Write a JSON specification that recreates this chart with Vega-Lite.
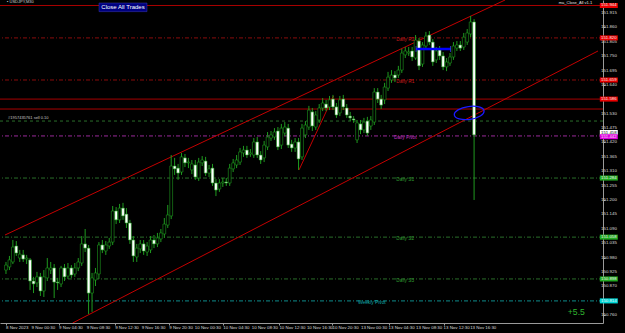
{
"$schema": "https://vega.github.io/schema/vega-lite/v6.json",
"width": 603, "height": 323,
"autosize": {"type": "none"},
"padding": {"left": 0, "top": 0, "right": 22, "bottom": 10},
"background": "black",
"config": {"view": {"stroke": null, "fill": "black"}, "font": "Liberation Sans"},
"resolve": {"scale": {"color": "independent", "strokeDash": "independent", "fill": "independent"}},
"datasets": {
"candles": [
{"i":0,"o":150.932,"h":150.963,"l":150.917,"c":150.951},
{"i":1,"o":150.944,"h":150.986,"l":150.932,"c":150.971},
{"i":2,"o":150.963,"h":151.047,"l":150.955,"c":151.020},
{"i":3,"o":151.024,"h":151.043,"l":150.986,"c":150.997},
{"i":4,"o":150.978,"h":151.009,"l":150.963,"c":150.993},
{"i":5,"o":150.990,"h":151.009,"l":150.963,"c":150.974},
{"i":6,"o":150.974,"h":150.990,"l":150.955,"c":150.978},
{"i":7,"o":150.971,"h":150.978,"l":150.856,"c":150.890},
{"i":8,"o":150.890,"h":150.906,"l":150.844,"c":150.879},
{"i":9,"o":150.883,"h":150.925,"l":150.867,"c":150.906},
{"i":10,"o":150.906,"h":150.921,"l":150.833,"c":150.852},
{"i":11,"o":150.852,"h":150.932,"l":150.829,"c":150.906},
{"i":12,"o":150.902,"h":150.978,"l":150.890,"c":150.940},
{"i":13,"o":150.932,"h":150.963,"l":150.917,"c":150.940},
{"i":14,"o":150.940,"h":150.955,"l":150.825,"c":150.886},
{"i":15,"o":150.886,"h":150.902,"l":150.856,"c":150.883},
{"i":16,"o":150.879,"h":150.948,"l":150.867,"c":150.940},
{"i":17,"o":150.940,"h":150.955,"l":150.890,"c":150.906},
{"i":18,"o":150.909,"h":150.959,"l":150.898,"c":150.940},
{"i":19,"o":150.940,"h":150.951,"l":150.902,"c":150.913},
{"i":20,"o":150.917,"h":150.959,"l":150.906,"c":150.940},
{"i":21,"o":150.940,"h":150.978,"l":150.928,"c":150.963},
{"i":22,"o":150.959,"h":151.062,"l":150.948,"c":151.032},
{"i":23,"o":151.032,"h":151.089,"l":151.001,"c":151.016},
{"i":24,"o":151.016,"h":151.028,"l":150.764,"c":150.844},
{"i":25,"o":150.844,"h":150.921,"l":150.772,"c":150.902},
{"i":26,"o":150.894,"h":150.940,"l":150.871,"c":150.921},
{"i":27,"o":150.917,"h":151.039,"l":150.898,"c":151.028},
{"i":28,"o":151.028,"h":151.047,"l":150.997,"c":151.009},
{"i":29,"o":151.005,"h":151.043,"l":150.990,"c":151.028},
{"i":30,"o":151.024,"h":151.055,"l":151.013,"c":151.039},
{"i":31,"o":151.039,"h":151.177,"l":151.028,"c":151.158},
{"i":32,"o":151.158,"h":151.173,"l":151.108,"c":151.124},
{"i":33,"o":151.124,"h":151.185,"l":151.112,"c":151.169},
{"i":34,"o":151.169,"h":151.189,"l":151.124,"c":151.139},
{"i":35,"o":151.146,"h":151.169,"l":151.093,"c":151.112},
{"i":36,"o":151.112,"h":151.124,"l":151.032,"c":151.047},
{"i":37,"o":151.047,"h":151.062,"l":150.963,"c":150.986},
{"i":38,"o":150.982,"h":151.032,"l":150.963,"c":151.016},
{"i":39,"o":151.013,"h":151.047,"l":150.997,"c":151.032},
{"i":40,"o":151.032,"h":151.047,"l":150.990,"c":151.005},
{"i":41,"o":151.001,"h":151.039,"l":150.986,"c":151.024},
{"i":42,"o":151.009,"h":151.062,"l":150.997,"c":151.047},
{"i":43,"o":151.047,"h":151.066,"l":151.016,"c":151.032},
{"i":44,"o":151.032,"h":151.074,"l":151.020,"c":151.055},
{"i":45,"o":151.051,"h":151.089,"l":151.039,"c":151.074},
{"i":46,"o":151.070,"h":151.131,"l":151.055,"c":151.108},
{"i":47,"o":151.104,"h":151.181,"l":151.093,"c":151.143},
{"i":48,"o":151.139,"h":151.372,"l":151.127,"c":151.330},
{"i":49,"o":151.330,"h":151.361,"l":151.296,"c":151.319},
{"i":50,"o":151.322,"h":151.338,"l":151.277,"c":151.303},
{"i":51,"o":151.307,"h":151.380,"l":151.296,"c":151.365},
{"i":52,"o":151.361,"h":151.376,"l":151.326,"c":151.342},
{"i":53,"o":151.342,"h":151.361,"l":151.322,"c":151.345},
{"i":54,"o":151.315,"h":151.353,"l":151.299,"c":151.338},
{"i":55,"o":151.334,"h":151.353,"l":151.277,"c":151.288},
{"i":56,"o":151.284,"h":151.361,"l":151.273,"c":151.345},
{"i":57,"o":151.342,"h":151.368,"l":151.330,"c":151.353},
{"i":58,"o":151.349,"h":151.365,"l":151.292,"c":151.303},
{"i":59,"o":151.303,"h":151.334,"l":151.288,"c":151.319},
{"i":60,"o":151.322,"h":151.338,"l":151.254,"c":151.265},
{"i":61,"o":151.265,"h":151.280,"l":151.215,"c":151.238},
{"i":62,"o":151.242,"h":151.280,"l":151.231,"c":151.265},
{"i":63,"o":151.265,"h":151.284,"l":151.250,"c":151.269},
{"i":64,"o":151.269,"h":151.284,"l":151.254,"c":151.265},
{"i":65,"o":151.265,"h":151.338,"l":151.254,"c":151.322},
{"i":66,"o":151.319,"h":151.357,"l":151.307,"c":151.342},
{"i":67,"o":151.334,"h":151.372,"l":151.322,"c":151.353},
{"i":68,"o":151.345,"h":151.399,"l":151.334,"c":151.384},
{"i":69,"o":151.380,"h":151.407,"l":151.365,"c":151.391},
{"i":70,"o":151.391,"h":151.407,"l":151.361,"c":151.372},
{"i":71,"o":151.376,"h":151.395,"l":151.365,"c":151.380},
{"i":72,"o":151.372,"h":151.437,"l":151.361,"c":151.422},
{"i":73,"o":151.422,"h":151.441,"l":151.361,"c":151.372},
{"i":74,"o":151.372,"h":151.387,"l":151.338,"c":151.353},
{"i":75,"o":151.361,"h":151.426,"l":151.345,"c":151.410},
{"i":76,"o":151.403,"h":151.460,"l":151.391,"c":151.441},
{"i":77,"o":151.437,"h":151.464,"l":151.426,"c":151.449},
{"i":78,"o":151.441,"h":151.475,"l":151.430,"c":151.460},
{"i":79,"o":151.464,"h":151.479,"l":151.391,"c":151.403},
{"i":80,"o":151.410,"h":151.491,"l":151.395,"c":151.475},
{"i":81,"o":151.456,"h":151.498,"l":151.445,"c":151.479},
{"i":82,"o":151.475,"h":151.491,"l":151.399,"c":151.410},
{"i":83,"o":151.414,"h":151.430,"l":151.384,"c":151.399},
{"i":84,"o":151.399,"h":151.437,"l":151.384,"c":151.422},
{"i":85,"o":151.422,"h":151.437,"l":151.315,"c":151.357},
{"i":86,"o":151.365,"h":151.491,"l":151.353,"c":151.475},
{"i":87,"o":151.449,"h":151.502,"l":151.437,"c":151.487},
{"i":88,"o":151.479,"h":151.560,"l":151.468,"c":151.544},
{"i":89,"o":151.537,"h":151.552,"l":151.464,"c":151.483},
{"i":90,"o":151.479,"h":151.540,"l":151.468,"c":151.525},
{"i":91,"o":151.506,"h":151.567,"l":151.495,"c":151.552},
{"i":92,"o":151.552,"h":151.590,"l":151.540,"c":151.571},
{"i":93,"o":151.567,"h":151.583,"l":151.540,"c":151.552},
{"i":94,"o":151.556,"h":151.598,"l":151.544,"c":151.583},
{"i":95,"o":151.586,"h":151.602,"l":151.544,"c":151.556},
{"i":96,"o":151.556,"h":151.571,"l":151.514,"c":151.525},
{"i":97,"o":151.533,"h":151.598,"l":151.521,"c":151.583},
{"i":98,"o":151.586,"h":151.602,"l":151.544,"c":151.556},
{"i":99,"o":151.552,"h":151.567,"l":151.514,"c":151.525},
{"i":100,"o":151.521,"h":151.537,"l":151.502,"c":151.514},
{"i":101,"o":151.510,"h":151.521,"l":151.495,"c":151.506},
{"i":102,"o":151.430,"h":151.506,"l":151.418,"c":151.495},
{"i":103,"o":151.491,"h":151.506,"l":151.452,"c":151.468},
{"i":104,"o":151.468,"h":151.514,"l":151.456,"c":151.498},
{"i":105,"o":151.502,"h":151.518,"l":151.445,"c":151.456},
{"i":106,"o":151.483,"h":151.521,"l":151.468,"c":151.506},
{"i":107,"o":151.498,"h":151.628,"l":151.487,"c":151.613},
{"i":108,"o":151.613,"h":151.628,"l":151.571,"c":151.586},
{"i":109,"o":151.586,"h":151.602,"l":151.548,"c":151.563},
{"i":110,"o":151.583,"h":151.648,"l":151.567,"c":151.632},
{"i":111,"o":151.628,"h":151.690,"l":151.617,"c":151.670},
{"i":112,"o":151.659,"h":151.697,"l":151.648,"c":151.678},
{"i":113,"o":151.678,"h":151.693,"l":151.651,"c":151.667},
{"i":114,"o":151.678,"h":151.713,"l":151.667,"c":151.697},
{"i":115,"o":151.697,"h":151.778,"l":151.686,"c":151.762},
{"i":116,"o":151.755,"h":151.785,"l":151.743,"c":151.770},
{"i":117,"o":151.762,"h":151.785,"l":151.751,"c":151.766},
{"i":118,"o":151.770,"h":151.785,"l":151.732,"c":151.747},
{"i":119,"o":151.743,"h":151.831,"l":151.736,"c":151.812},
{"i":120,"o":151.808,"h":151.820,"l":151.697,"c":151.713},
{"i":121,"o":151.720,"h":151.804,"l":151.709,"c":151.793},
{"i":122,"o":151.789,"h":151.843,"l":151.778,"c":151.827},
{"i":123,"o":151.831,"h":151.846,"l":151.793,"c":151.804},
{"i":124,"o":151.804,"h":151.816,"l":151.713,"c":151.728},
{"i":125,"o":151.736,"h":151.785,"l":151.724,"c":151.770},
{"i":126,"o":151.774,"h":151.789,"l":151.736,"c":151.751},
{"i":127,"o":151.751,"h":151.766,"l":151.697,"c":151.709},
{"i":128,"o":151.709,"h":151.743,"l":151.693,"c":151.728},
{"i":129,"o":151.724,"h":151.762,"l":151.713,"c":151.747},
{"i":130,"o":151.747,"h":151.804,"l":151.736,"c":151.789},
{"i":131,"o":151.781,"h":151.808,"l":151.770,"c":151.793},
{"i":132,"o":151.793,"h":151.808,"l":151.770,"c":151.781},
{"i":133,"o":151.785,"h":151.839,"l":151.774,"c":151.823},
{"i":134,"o":151.804,"h":151.854,"l":151.793,"c":151.839},
{"i":135,"o":151.835,"h":151.904,"l":151.823,"c":151.881},
{"i":136,"o":151.881,"h":151.892,"l":151.200,"c":151.449}
],
"levels": [
{"name":"line","price":151.944,"kind":"line"},
{"name":"Daily R2","price":151.820,"kind":"res"},
{"name":"Daily R1","price":151.659,"kind":"res"},
{"name":"line","price":151.586,"kind":"line"},
{"name":"line","price":151.548,"kind":"line"},
{"name":"order","price":151.502,"kind":"order"},
{"name":"Daily Pivot","price":151.445,"kind":"piv"},
{"name":"Daily S1","price":151.284,"kind":"sup"},
{"name":"Daily S2","price":151.058,"kind":"sup"},
{"name":"Daily S3","price":150.898,"kind":"sup"},
{"name":"Weekly Pivot","price":150.814,"kind":"wpiv"}
],
"tags": [
{"price":151.944,"kind":"red"},
{"price":151.820,"kind":"red"},
{"price":151.659,"kind":"red"},
{"price":151.586,"kind":"red"},
{"price":151.458,"kind":"white"},
{"price":151.442,"kind":"magenta"},
{"price":151.284,"kind":"green"},
{"price":151.058,"kind":"green"},
{"price":150.898,"kind":"green"},
{"price":150.814,"kind":"cyan"}
],
"channel": [
{"line":"upper","i":-0.286,"p":151.066},
{"line":"upper","i":145.0,"p":151.965},
{"line":"lower","i":19.37,"p":150.7295},
{"line":"lower","i":172.0,"p":151.770}
],
"xlabels": [
{"i":0,"t":"8 Nov 2023"},
{"i":7.43,"t":"9 Nov 00:30"},
{"i":15.43,"t":"9 Nov 04:30"},
{"i":23.43,"t":"9 Nov 08:30"},
{"i":31.71,"t":"9 Nov 12:30"},
{"i":39.43,"t":"9 Nov 16:30"},
{"i":47.43,"t":"9 Nov 20:30"},
{"i":54.86,"t":"10 Nov 00:30"},
{"i":63.14,"t":"10 Nov 04:30"},
{"i":71.43,"t":"10 Nov 08:30"},
{"i":79.43,"t":"10 Nov 12:30"},
{"i":87.43,"t":"10 Nov 16:30"},
{"i":94.86,"t":"10 Nov 20:30"},
{"i":103.14,"t":"13 Nov 00:30"},
{"i":111.14,"t":"13 Nov 04:30"},
{"i":119.14,"t":"13 Nov 08:30"},
{"i":127.14,"t":"13 Nov 12:30"},
{"i":134.86,"t":"13 Nov 16:30"}
],
"ylabels": [
{"p":151.915},{"p":151.860},{"p":151.805},{"p":151.750},{"p":151.695},{"p":151.640},{"p":151.585},{"p":151.530},{"p":151.475},{"p":151.420},{"p":151.365},{"p":151.310},{"p":151.255},{"p":151.200},{"p":151.145},{"p":151.090},{"p":151.035},{"p":150.980},{"p":150.925},{"p":150.870},{"p":150.815},{"p":150.760}
]
},
"layer": [
{
"data": {"name": "levels"},
"mark": {"type": "rule", "strokeWidth": 1},
"encoding": {
"y": {"field": "price", "type": "quantitative", "title": null,
"scale": {"domain": [150.7295, 151.965], "nice": false, "zero": false},
"axis": {"orient": "right", "values": [151.915,151.86,151.805,151.75,151.695,151.64,151.585,151.53,151.475,151.42,151.365,151.31,151.255,151.2,151.145,151.09,151.035,150.98,150.925,150.87,150.815,150.76],
"labels": false, "tickSize": 2, "tickColor": "#9a9a9a", "domainColor": "#9a9a9a", "grid": false, "title": null}},
"color": {"field": "kind", "type": "nominal", "legend": null,
"scale": {"domain": ["line","res","piv","sup","wpiv","order"], "range": ["#a80000","#8a0c0c","#9a2a9a","#2a6e2a","#0e8c8c","#2a6e2a"]}},
"strokeDash": {"field": "kind", "type": "nominal", "legend": null,
"scale": {"domain": ["line","res","piv","sup","wpiv","order"], "range": [[1,0],[4,2,1,2],[4,2,1,2],[4,2,1,2],[4,2,1,2],[3,3]]}}
}
},
{
"data": {"name": "channel"},
"mark": {"type": "line", "color": "#c40000", "strokeWidth": 1, "clip": true},
"encoding": {
"x": {"field": "i", "type": "quantitative", "title": null,
"scale": {"domain": [-0.2857, 172], "nice": false, "zero": false},
"axis": {"orient": "bottom", "values": [0,7.43,15.43,23.43,31.71,39.43,47.43,54.86,63.14,71.43,79.43,87.43,94.86,103.14,111.14,119.14,127.14,134.86],
"labels": false, "tickSize": 2, "tickColor": "#9a9a9a", "domainColor": "#9a9a9a", "grid": false, "title": null}},
"y": {"field": "p", "type": "quantitative", "title": null},
"detail": {"field": "line"}
}
},
{
"data": {"name": "xlabels"},
"mark": {"type": "text", "fontSize": 4.4, "align": "left", "baseline": "top", "dy": 2.5, "color": "#dcdcdc", "font": "Liberation Sans"},
"encoding": {
"x": {"field": "i", "type": "quantitative", "title": null},
"y": {"datum": 150.7295, "type": "quantitative", "title": null},
"text": {"field": "t"}
}
},
{
"data": {"name": "ylabels"},
"mark": {"type": "text", "fontSize": 4.4, "align": "left", "baseline": "middle", "dx": 3, "color": "#dcdcdc", "font": "Liberation Sans"},
"encoding": {
"x": {"datum": 172, "type": "quantitative", "title": null},
"y": {"field": "p", "type": "quantitative", "title": null},
"text": {"field": "p", "format": ".3f"}
}
},
{
"data": {"values": [{"i":85.14,"p":151.315},{"i":95.14,"p":151.598}]},
"mark": {"type": "line", "color": "#c40000", "strokeWidth": 1},
"encoding": {
"x": {"field": "i", "type": "quantitative", "title": null},
"y": {"field": "p", "type": "quantitative", "title": null}
}
},
{
"data": {"name": "candles"},
"mark": {"type": "rule", "color": "#1f9a1f", "strokeWidth": 1},
"encoding": {
"x": {"field": "i", "type": "quantitative", "title": null},
"y": {"field": "l", "type": "quantitative", "title": null},
"y2": {"field": "h"}
}
},
{
"data": {"name": "candles"},
"mark": {"type": "bar", "width": 2.8, "stroke": "#1f9a1f", "strokeWidth": 0.6},
"encoding": {
"x": {"field": "i", "type": "quantitative", "title": null},
"y": {"field": "o", "type": "quantitative", "title": null},
"y2": {"field": "c"},
"fill": {"condition": {"test": "datum.c < datum.o", "value": "#ffffff"}, "value": "#000000"}
}
},
{
"data": {"values": [{"i1":119.14,"i2":129.14,"p":151.778}]},
"mark": {"type": "rule", "color": "#0000ff", "strokeWidth": 2.5},
"encoding": {
"x": {"field": "i1", "type": "quantitative", "title": null},
"x2": {"field": "i2"},
"y": {"field": "p", "type": "quantitative", "title": null}
}
},
{
"data": {"values": [{"i":119.14,"p":151.778},{"i":129.14,"p":151.778}]},
"mark": {"type": "tick", "orient": "vertical", "size": 6, "thickness": 1, "color": "#4040ff"},
"encoding": {
"x": {"field": "i", "type": "quantitative", "title": null},
"y": {"field": "p", "type": "quantitative", "title": null}
}
},
{
"data": {"values": [{"i":134.57,"p":151.533}]},
"mark": {"type": "point", "shape": "M-1,0A1,0.43 0 1,0 1,0A1,0.43 0 1,0 -1,0Z", "size": 900, "filled": false, "stroke": "#1a1aff", "strokeWidth": 1.3, "angle": -8, "opacity": 1},
"encoding": {
"x": {"field": "i", "type": "quantitative", "title": null},
"y": {"field": "p", "type": "quantitative", "title": null}
}
},
{
"data": {"name": "levels"},
"transform": [{"filter": "datum.kind == 'res' || datum.kind == 'piv' || datum.kind == 'sup'"}],
"mark": {"type": "text", "fontSize": 4.8, "baseline": "middle", "align": "center", "dy": 2, "font": "Liberation Sans"},
"encoding": {
"x": {"datum": 116, "type": "quantitative", "title": null},
"y": {"field": "price", "type": "quantitative", "title": null},
"text": {"field": "name"},
"color": {"field": "kind", "type": "nominal", "legend": null,
"scale": {"domain": ["res","piv","sup"], "range": ["#c41a1a","#c030c0","#2f9a2f"]}}
}
},
{
"data": {"values": [{"name":"Weekly Pivot","price":150.814}]},
"mark": {"type": "text", "fontSize": 4.8, "baseline": "middle", "align": "center", "dy": 2, "color": "#10a8a8", "font": "Liberation Sans"},
"encoding": {
"x": {"datum": 106.3, "type": "quantitative", "title": null},
"y": {"field": "price", "type": "quantitative", "title": null},
"text": {"field": "name"}
}
},
{
"data": {"name": "tags"},
"mark": {"type": "point", "shape": "M-1,-0.28L1,-0.28L1,0.28L-1,0.28Z", "size": 324, "filled": true, "opacity": 1, "strokeWidth": 0},
"encoding": {
"x": {"datum": 175.14, "type": "quantitative", "title": null},
"y": {"field": "price", "type": "quantitative", "title": null},
"fill": {"field": "kind", "type": "nominal", "legend": null,
"scale": {"domain": ["red","white","magenta","green","cyan"], "range": ["#e80000","#ffffff","#e000e0","#22aa22","#00d8d8"]}}
}
},
{
"data": {"name": "tags"},
"mark": {"type": "text", "fontSize": 4.3, "baseline": "middle", "align": "center", "font": "Liberation Sans"},
"encoding": {
"x": {"datum": 175.14, "type": "quantitative", "title": null},
"y": {"field": "price", "type": "quantitative", "title": null},
"text": {"field": "price", "format": ".3f"},
"color": {"condition": {"test": "datum.kind == 'white'", "value": "#000000"}, "value": "#f0f0f0"}
}
},
{
"data": {"values": [{"label":"Close All Trades"}]},
"mark": {"type": "point", "shape": "M-1,-0.18L1,-0.18L1,0.18L-1,0.18Z", "size": 2304, "filled": true, "fill": "#000080", "stroke": "#3a3aa8", "strokeWidth": 0.5, "opacity": 1},
"encoding": {
"x": {"datum": 34.0, "type": "quantitative", "title": null},
"y": {"datum": 151.937, "type": "quantitative", "title": null}
}
},
{
"data": {"values": [{"label":"Close All Trades"}]},
"mark": {"type": "text", "fontSize": 6, "baseline": "middle", "align": "center", "color": "#ffffff", "font": "Liberation Sans"},
"encoding": {
"x": {"datum": 34.0, "type": "quantitative", "title": null},
"y": {"datum": 151.937, "type": "quantitative", "title": null},
"text": {"field": "label"}
}
},
{
"data": {"values": [{"label":"▪ USDJPY,M30"}]},
"mark": {"type": "text", "fontSize": 4, "baseline": "middle", "align": "left", "color": "#d0d0d0", "font": "Liberation Sans"},
"encoding": {
"x": {"datum": 0.3, "type": "quantitative", "title": null},
"y": {"datum": 151.956, "type": "quantitative", "title": null},
"text": {"field": "label"}
}
},
{
"data": {"values": [{"label":"ma_Close_All v1.1"}]},
"mark": {"type": "text", "fontSize": 4, "baseline": "middle", "align": "right", "color": "#e0e0e0", "font": "Liberation Sans"},
"encoding": {
"x": {"datum": 170.3, "type": "quantitative", "title": null},
"y": {"datum": 151.952, "type": "quantitative", "title": null},
"text": {"field": "label"}
}
},
{
"data": {"values": [{"label":"#1957435761 sell 0.10"}]},
"mark": {"type": "text", "fontSize": 4, "baseline": "middle", "align": "left", "dy": -3, "color": "#c8c8c8", "font": "Liberation Sans"},
"encoding": {
"x": {"datum": 0.6, "type": "quantitative", "title": null},
"y": {"datum": 151.502, "type": "quantitative", "title": null},
"text": {"field": "label"}
}
},
{
"data": {"values": [{"label":"+5.5"}]},
"mark": {"type": "text", "fontSize": 8.6, "baseline": "middle", "align": "center", "color": "#2fb52f", "font": "Liberation Sans"},
"encoding": {
"x": {"datum": 165.7, "type": "quantitative", "title": null},
"y": {"datum": 150.772, "type": "quantitative", "title": null},
"text": {"field": "label"}
}
}
]
}
